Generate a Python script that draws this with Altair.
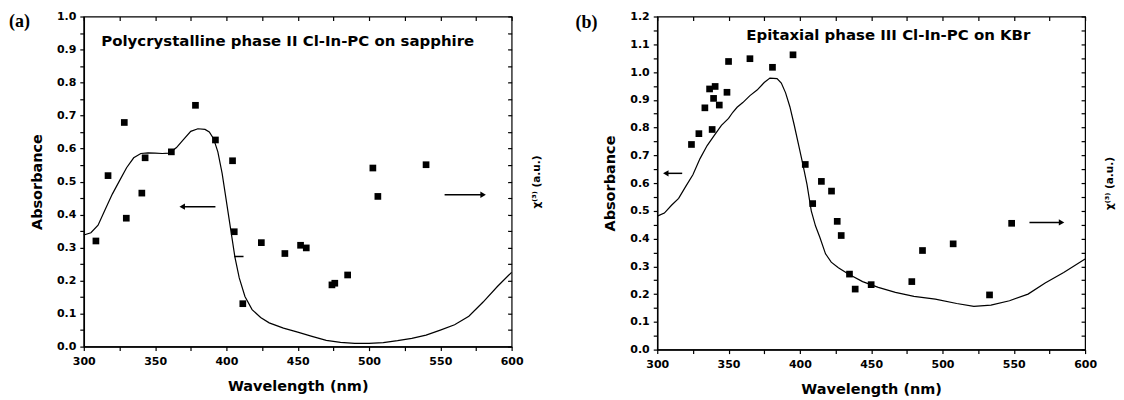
import altair as alt
import pandas as pd

# ---------------- data ----------------
# Panel (a): polycrystalline phase II Cl-In-PC on sapphire
A_LINE_NM = [300, 305, 310, 315, 320, 325, 330, 335, 340, 345, 350, 355, 360, 365, 370,
             375, 380, 385, 388, 391, 394, 397, 400, 403, 406, 409, 413, 418, 424, 430,
             440, 450, 460, 470, 480, 490, 500, 510, 520, 530, 540, 550, 560, 570, 580,
             590, 600]
A_LINE_ABS = [0.338, 0.345, 0.368, 0.415, 0.462, 0.502, 0.542, 0.572, 0.585, 0.587, 0.586,
              0.585, 0.586, 0.603, 0.628, 0.652, 0.660, 0.658, 0.650, 0.630, 0.590, 0.525,
              0.440, 0.355, 0.270, 0.208, 0.152, 0.112, 0.088, 0.072, 0.056, 0.044, 0.031,
              0.019, 0.013, 0.010, 0.010, 0.012, 0.018, 0.025, 0.035, 0.050, 0.066, 0.092,
              0.135, 0.182, 0.225]
A_PTS_NM = [308.5, 317, 328.4, 329.8, 340.7, 343, 361.4, 378.3, 392.3, 404.3, 405.5,
            411.5, 424.5, 441, 452, 456, 474, 476, 485, 502.7, 506.2, 540]
A_PTS_CHI = [0.320, 0.518, 0.679, 0.389, 0.465, 0.572, 0.590, 0.731, 0.626, 0.563, 0.348,
             0.130, 0.315, 0.282, 0.307, 0.299, 0.187, 0.192, 0.217, 0.541, 0.455, 0.551]
A_ARROW_TAIL = [392.3, 553, 412]
A_ARROW_TIP = [369, 580, 405.5]
A_ARROW_Y = [0.424, 0.460, 0.273]
A_ARROW_HEAD = ["triangle-left", "triangle-right", ""]

# Panel (b): epitaxial phase III Cl-In-PC on KBr
B_LINE_NM = [300, 305, 310, 315, 320, 325, 330, 335, 340, 345, 350, 353, 356, 360, 365,
             370, 375, 379, 384, 387, 390, 393, 396, 399, 402, 405, 408, 411, 414, 418,
             422, 427, 434, 444, 455, 467, 480, 495, 510, 522, 534, 547, 560, 572, 585, 600]
B_LINE_ABS = [0.481, 0.492, 0.520, 0.545, 0.588, 0.630, 0.688, 0.735, 0.772, 0.808, 0.833,
              0.855, 0.873, 0.890, 0.915, 0.935, 0.962, 0.978, 0.976, 0.960, 0.925, 0.875,
              0.810, 0.740, 0.670, 0.595, 0.500, 0.445, 0.405, 0.345, 0.315, 0.295, 0.272,
              0.245, 0.224, 0.206, 0.192, 0.182, 0.166, 0.156, 0.160, 0.176, 0.200, 0.240,
              0.278, 0.326]
B_PTS_NM = [324, 329.2, 333.4, 336.7, 340.6, 339.5, 338.5, 343.5, 348.9, 350, 365, 380.8,
            395.2, 403.8, 409, 415.1, 422.2, 426.2, 429, 434.8, 438.8, 450, 478.5, 486,
            507.5, 533, 548.5]
B_PTS_CHI = [0.739, 0.778, 0.871, 0.939, 0.948, 0.905, 0.793, 0.881, 0.927, 1.038, 1.048,
             1.017, 1.062, 0.667, 0.526, 0.606, 0.571, 0.462, 0.411, 0.272, 0.218, 0.234,
             0.245, 0.357, 0.381, 0.197, 0.455]
B_ARROW_TAIL = [317.5, 561]
B_ARROW_TIP = [306, 583.5]
B_ARROW_Y = [0.635, 0.458]
B_ARROW_HEAD = ["triangle-left", "triangle-right"]

X_TICKS = list(range(300, 601, 25))

SANS = "DejaVu Sans"
SERIF = "Liberation Serif"

MAJOR_X = "datum.value % 50 == 0"
MAJOR_Y = "abs(datum.value * 10 - round(datum.value * 10)) < 0.001"


def panel(letter, line_nm, line_val, pts_nm, pts_val, ymax, note, note_x, note_y,
          tail, tip, ay, heads, width, height, letter_x, letter_y):
    y_ticks = [round(i * 0.05, 2) for i in range(int(round(ymax / 0.05)) + 1)]
    xs = alt.Scale(domain=[300, 600], nice=False, zero=False)
    ys = alt.Scale(domain=[0, ymax], nice=False, zero=False)

    x_bottom = alt.Axis(
        orient="bottom", values=X_TICKS, title="Wavelength (nm)",
        labelExpr=f"{MAJOR_X} ? datum.label : ''", labelFlush=False,
        tickSize=4, labelPadding=5, titlePadding=13, grid=False,
    )
    y_left = alt.Axis(
        orient="left", values=y_ticks, title="Absorbance",
        labelExpr=f"{MAJOR_Y} ? format(datum.value, '.1f') : ''", labelFlush=False,
        tickSize=4, labelPadding=4, titlePadding=12, grid=False,
    )
    x_top = alt.Axis(orient="top", values=X_TICKS, labels=False, title=None,
                     domain=False, tickSize=4, offset=-4, grid=False)
    y_right = alt.Axis(orient="right", values=y_ticks, labels=False,
                       title="χ⁽³⁾ (a.u.)", titleAngle=270, titleBaseline="top",
                       titleFontSize=10.5, titlePadding=19,
                       domain=False, tickSize=4, offset=-4, grid=False)

    line_df = pd.DataFrame({"nm": line_nm, "val": line_val})
    pts_df = pd.DataFrame({"nm": pts_nm, "val": pts_val})
    arr_df = pd.DataFrame({"tail": tail, "tip": tip, "ay": ay, "head": heads})

    line = alt.Chart(line_df).mark_line(color="black", strokeWidth=1.2).encode(
        x=alt.X("nm:Q", scale=xs, axis=x_bottom),
        y=alt.Y("val:Q", scale=ys, axis=y_left))

    pts = alt.Chart(pts_df).mark_square(size=45, color="black", opacity=1).encode(
        x=alt.X("nm:Q", scale=xs, axis=x_top),
        y=alt.Y("val:Q", scale=ys, axis=y_right))

    shafts = alt.Chart(arr_df).mark_rule(color="black", strokeWidth=1.5).encode(
        x=alt.X("tail:Q", scale=xs, axis=None), x2="tip:Q",
        y=alt.Y("ay:Q", scale=ys, axis=None))

    heads_l = alt.Chart(arr_df).transform_filter("datum.head != ''").mark_point(
        filled=True, color="black", opacity=1, size=40
    ).encode(x=alt.X("tip:Q", scale=xs, axis=None),
             y=alt.Y("ay:Q", scale=ys, axis=None),
             shape=alt.Shape("head:N", scale=None))

    note_df = pd.DataFrame({"t": [note], "nx": [note_x], "ny": [note_y]})
    note_l = alt.Chart(note_df).mark_text(
        font=SANS, fontWeight="bold", fontSize=15, color="black", align="center",
        baseline="middle"
    ).encode(x=alt.X("nx:Q", scale=xs, axis=None),
             y=alt.Y("ny:Q", scale=ys, axis=None), text="t:N")

    letter_l = alt.Chart(pd.DataFrame({"t": [letter]})).mark_text(
        font=SERIF, fontWeight="bold", fontSize=18, color="black", align="left",
        baseline="middle"
    ).encode(x=alt.value(letter_x), y=alt.value(letter_y), text="t:N")

    return alt.layer(line, pts, shafts, heads_l, note_l, letter_l).resolve_axis(
        x="independent", y="independent"
    ).properties(width=width, height=height)


pa = panel("(a)", A_LINE_NM, A_LINE_ABS, A_PTS_NM, A_PTS_CHI, 1.0,
           "Polycrystalline phase II Cl-In-PC on sapphire", 443, 0.925,
           A_ARROW_TAIL, A_ARROW_TIP, A_ARROW_Y, A_ARROW_HEAD, 429, 331, -75, 6)
pb = panel("(b)", B_LINE_NM, B_LINE_ABS, B_PTS_NM, B_PTS_CHI, 1.2,
           "Epitaxial phase III Cl-In-PC on KBr", 462, 1.134,
           B_ARROW_TAIL, B_ARROW_TIP, B_ARROW_Y, B_ARROW_HEAD, 429, 334, -82, 7)

chart = alt.hconcat(pa, pb, spacing=32).properties(
    padding={"left": 0, "top": 1, "right": 0, "bottom": 0}
).configure_view(stroke="black", strokeWidth=1.2).configure_axis(
    labelFont=SANS, labelFontWeight="bold", labelFontSize=11, labelColor="black",
    titleFont=SANS, titleFontWeight="bold", titleFontSize=14.5, titleColor="black",
    domainColor="black", domainWidth=1.5, tickColor="black", tickWidth=1.2,
)

chart.save("out.html", embed_options={"renderer": "svg", "actions": False})
